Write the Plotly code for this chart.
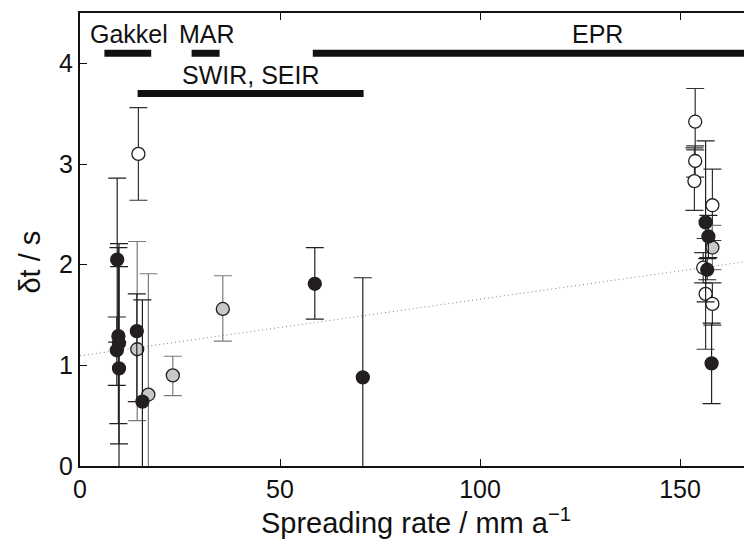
import plotly.graph_objects as go

# ---- data ----
black_x = [9.3, 9.6, 9.75, 9.2, 9.75, 14.2, 15.6, 58.7, 70.7, 156.4, 157.1, 156.8, 157.9]
black_y = [2.05, 1.29, 1.22, 1.15, 0.97, 1.34, 0.64, 1.81, 0.88, 2.42, 2.28, 1.95, 1.02]
black_hi = [2.86, 2.17, 2.21, 1.48, 1.98, 1.71, 1.65, 2.17, 1.87, 3.23, 2.49, 2.06, 1.42]
black_lo = [1.23, 0.42, 0.22, 0.80, -0.04, 0.64, -0.37, 1.46, -0.12, 1.63, 2.07, 1.85, 0.62]

gray_x = [14.3, 17.1, 23.2, 35.7, 158.1]
gray_y = [1.16, 0.71, 0.90, 1.56, 2.17]
gray_hi = [2.23, 1.91, 1.09, 1.89, 2.39]
gray_lo = [0.45, -0.49, 0.70, 1.24, 1.95]

open_x = [14.6, 153.8, 153.8, 153.6, 158.1, 155.8, 156.4, 158.1]
open_y = [3.10, 3.42, 3.03, 2.83, 2.59, 1.97, 1.71, 1.61]
open_hi = [3.56, 3.75, 3.18, 3.16, 2.95, 2.12, 2.26, 1.82]
open_lo = [2.64, 3.14, 2.87, 2.54, 2.24, 1.82, 1.16, 1.40]

# regression line (dotted)
trend_x = [0, 168]
trend_intercept = 1.095
trend_slope = 0.00562

# ridge spreading-rate ranges
ridge_names = ["Gakkel", "MAR", "EPR", "SWIR, SEIR"]
ridge_start = [6.1, 27.9, 58.2, 14.4]
ridge_end = [17.8, 34.9, 180.0, 70.9]
ridge_level = [4.1, 4.1, 4.1, 3.7]
label_x = [12.2, 31.8, 129.3, 42.8]
label_y = [4.29, 4.29, 4.29, 3.88]

x_ticks = [0, 50, 100, 150]
y_ticks = [0, 1, 2, 3, 4]

FONT = "Liberation Sans, Arial, Helvetica, sans-serif"
FS = 25

fig = go.Figure()

# trend line
fig.add_trace(go.Scatter(
    x=trend_x, y=[trend_intercept + trend_slope * v for v in trend_x],
    mode="lines", line=dict(color="#808080", width=1, dash="1px,3px"),
    hoverinfo="skip", showlegend=False))

# ridge bars
for s, e, lv in zip(ridge_start, ridge_end, ridge_level):
    fig.add_trace(go.Scatter(
        x=[s, e], y=[lv, lv], mode="lines",
        line=dict(color="#111111", width=7), showlegend=False, hoverinfo="skip"))


def err_trace(xs, ys, hi, lo, fill, barcolor):
    return go.Scatter(
        x=xs, y=ys, mode="markers",
        marker=dict(size=13, color=fill, line=dict(color="#231f20", width=1.3)),
        error_y=dict(type="data", symmetric=False,
                     array=[h - y for h, y in zip(hi, ys)],
                     arrayminus=[y - l for y, l in zip(ys, lo)],
                     color=barcolor, thickness=1.2, width=9),
        showlegend=False)


fig.add_trace(err_trace(open_x, open_y, open_hi, open_lo, "white", "#333333"))
fig.add_trace(err_trace(gray_x, gray_y, gray_hi, gray_lo, "#c8c8c8", "#7a7a7a"))
fig.add_trace(err_trace(black_x, black_y, black_hi, black_lo, "#231f20", "#231f20"))

for name, lx, ly in zip(ridge_names, label_x, label_y):
    fig.add_annotation(x=lx, y=ly, text=name, showarrow=False,
                       font=dict(size=FS, color="#111111", family=FONT),
                       xanchor="center", yanchor="middle")

# y-axis title (rotated text, slightly below the plot centre as in the original)
fig.add_annotation(xref="paper", yref="y", x=-0.0745, y=2.03, text="δt / s",
                   textangle=-90, showarrow=False, xanchor="center", yanchor="middle",
                   font=dict(size=29, color="#111111", family=FONT))

fig.update_layout(
    width=744, height=531,
    margin=dict(l=72, r=0, t=5, b=73),
    paper_bgcolor="white", plot_bgcolor="white",
    font=dict(family=FONT, size=FS, color="#111111"),
    xaxis=dict(range=[0, 168], tickvals=x_ticks, ticks="inside", ticklen=7,
               tickwidth=1, tickcolor="#111111", automargin=False,
               showline=True, linecolor="#111111", linewidth=2, mirror="ticks",
               showgrid=False, zeroline=False,
               title=dict(text="Spreading rate / mm a<sup>−1</sup>", standoff=4,
                          font=dict(size=29)),
               tickfont=dict(size=FS)),
    yaxis=dict(range=[0, 4.5], tickvals=y_ticks, ticks="inside", ticklen=7,
               tickwidth=1, tickcolor="#111111", automargin=False,
               showline=True, linecolor="#111111", linewidth=2, mirror=False,
               showgrid=False, zeroline=False,
               tickfont=dict(size=FS)),
)

fig.write_html("out.html")
